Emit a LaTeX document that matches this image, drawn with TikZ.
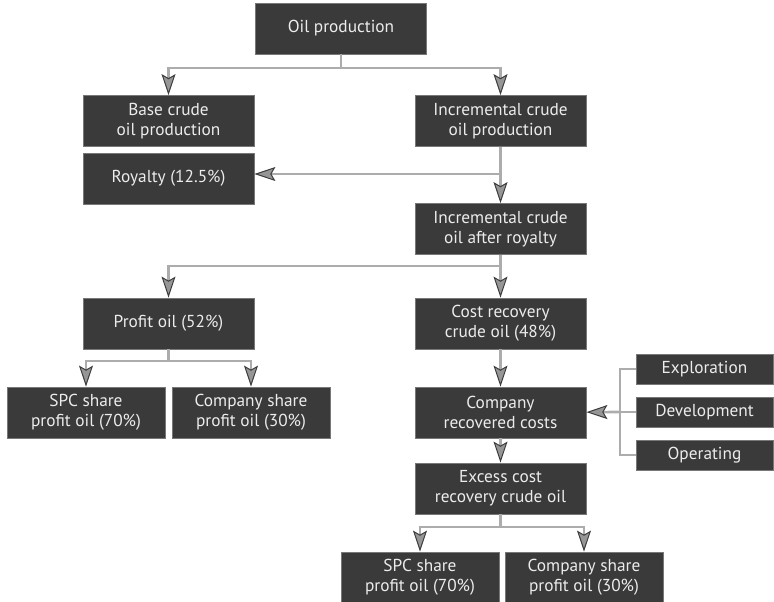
\documentclass[tikz,border=0pt]{standalone}
\usepackage{fontspec}
\setmainfont{PT Sans}
\usetikzlibrary{arrows.meta}
\definecolor{boxfill}{RGB}{58,58,58}
\definecolor{boxline}{RGB}{120,120,120}
\definecolor{conncol}{RGB}{172,172,172}
\definecolor{tipfill}{RGB}{150,150,150}
\definecolor{tipline}{RGB}{60,60,60}
\definecolor{txt}{RGB}{236,236,236}
\begin{document}
\begin{tikzpicture}[x=1pt,y=-1pt,
  box/.style={draw=boxline,line width=0.8pt,fill=boxfill,text=txt,inner sep=0pt,
    minimum width=171pt,minimum height=51pt,align=center,
    font=\fontsize{17.3}{20}\selectfont},
  sbox/.style={box,minimum width=158pt},
  tbox/.style={box,minimum width=137pt,minimum height=30pt},
  conn/.style={draw=conncol,line width=2.6pt},
  arr/.style={conn,-{Stealth[length=21pt,width=14pt,inset=4pt,line width=1pt,color=tipline,fill=tipfill]}}
]
\useasboundingbox (0,0) rectangle (774,602);
\node[box] (oil) at (341,28.5) {Oil production};
\node[box] (base) at (168.5,121) {Base crude\\oil production};
\node[box] (incr) at (500.5,121) {Incremental crude\\oil production};
\node[box] (roy) at (168.5,178.5) {Royalty (12.5\%)};
\node[box] (after) at (500.5,229) {Incremental crude\\oil after royalty};
\node[box] (profit) at (168.5,323.5) {Profit oil (52\%)};
\node[box] (cost) at (500.5,323.5) {Cost recovery\\crude oil (48\%)};
\node[sbox] (spc1) at (86,412.5) {SPC share\\profit oil (70\%)};
\node[sbox] (comp1) at (251,412.5) {Company share\\profit oil (30\%)};
\node[box] (crc) at (500.5,412.5) {Company\\recovered costs};
\node[tbox] (expl) at (704.5,369) {Exploration};
\node[tbox] (dev) at (704.5,412) {Development};
\node[tbox] (oper) at (704.5,455) {Operating};
\node[box] (excess) at (500.5,488.5) {Excess cost\\recovery crude oil};
\node[sbox] (spc2) at (420,577.5) {SPC share\\profit oil (70\%)};
\node[sbox] (comp2) at (584,577.5) {Company share\\profit oil (30\%)};
% junctions
\coordinate (j1) at (341,68);
\coordinate (j2) at (500.5,174);
\coordinate (j3) at (341,266);
\coordinate (j4) at (168.5,361);
\coordinate (j5) at (620,412);
\coordinate (j6) at (500.5,527);
% connectors
\draw[conn] (oil) -- (j1);
\draw[arr] (j1) -| (base);
\draw[arr] (j1) -| (incr);
\draw[arr] (incr) -- (after);
\draw[arr] (j2) -- (roy.east |- j2);
\draw[conn] (after) -- (after.south |- j3);
\draw[arr] (after.south |- j3) -| (profit);
\draw[arr] (after.south |- j3) -- (cost);
\draw[conn] (profit) -- (j4);
\draw[arr] (j4) -| (spc1);
\draw[arr] (j4) -| (comp1);
\draw[arr] (cost) -- (crc);
\draw[arr] (crc) -- (excess);
\draw[conn] (expl.west) -| (j5) |- (oper.west);
\draw[conn] (dev) -- (j5);
\draw[arr] (j5) -- (crc);
\draw[conn] (excess) -- (j6);
\draw[arr] (j6) -| (spc2);
\draw[arr] (j6) -| (comp2);
\end{tikzpicture}
\end{document}
